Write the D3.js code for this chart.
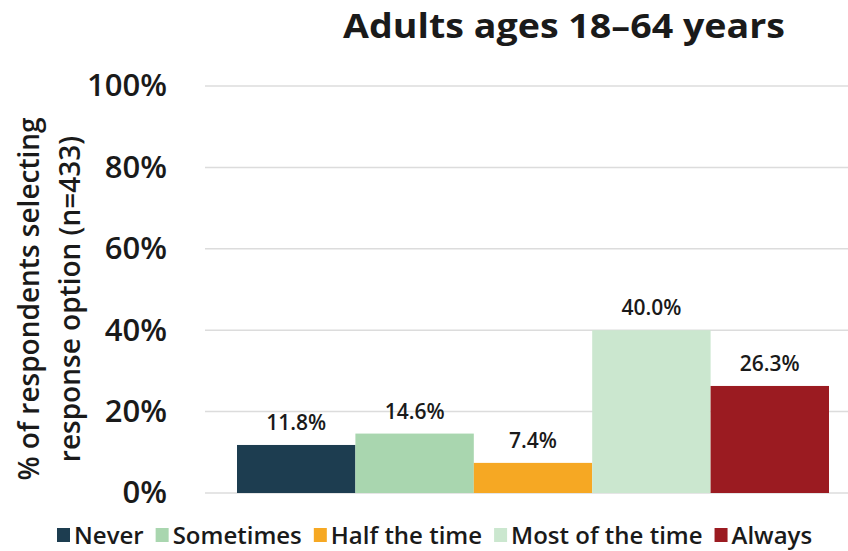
<!DOCTYPE html>
<html>
<head>
<meta charset="utf-8">
<script src="https://cdn.jsdelivr.net/npm/d3@7"></script>
<style>
  html, body { margin: 0; padding: 0; background: #ffffff; }
  svg { display: block; font-family: "Open Sans", "Noto Sans", sans-serif; }
</style>
</head>
<body>
<svg id="chart" width="848" height="551"></svg>
<script>
// Response options and share of respondents (%)
const categories = ["Never", "Sometimes", "Half the time", "Most of the time", "Always"];
const values = [11.8, 14.6, 7.4, 40.0, 26.3];
const colors = ["#1d3d50", "#a9d6af", "#f6a823", "#cbe7cf", "#9b1b21"];
const yTicks = [0, 20, 40, 60, 80, 100];
const title = "Adults ages 18–64 years";
const yTitle = ["% of respondents selecting", "response option (n=433)"];

const svg = d3.select("#chart");
const textColor = "#1a1a1a";

const x = d3.scaleBand().domain(categories).range([237, 829]).padding(0);
const y = d3.scaleLinear().domain([0, 100]).range([493, 86]);

// Gridlines
svg.append("g")
  .selectAll("line")
  .data(yTicks)
  .join("line")
  .attr("x1", 205).attr("x2", 848)
  .attr("y1", d => y(d)).attr("y2", d => y(d))
  .attr("stroke", "#dcdcdc").attr("stroke-width", 1.5);

// Y axis tick labels
const yAxis = d3.axisLeft(y).tickValues(yTicks).tickFormat(d => d + "%").tickSize(0).tickPadding(0);
const yAxisG = svg.append("g").attr("transform", "translate(167,0)").call(yAxis);
yAxisG.select(".domain").remove();
yAxisG.selectAll("text")
  .attr("font-family", "'Open Sans', sans-serif")
  .attr("font-size", 31).attr("font-weight", 600)
  .attr("fill", textColor);

// Bars
svg.append("g")
  .selectAll("rect")
  .data(values)
  .join("rect")
  .attr("x", (d, i) => x(categories[i]))
  .attr("width", x.bandwidth())
  .attr("y", d => y(d))
  .attr("height", d => y(0) - y(d))
  .attr("fill", (d, i) => colors[i]);

// Value labels
svg.append("g")
  .selectAll("text")
  .data(values)
  .join("text")
  .attr("x", (d, i) => x(categories[i]) + x.bandwidth() / 2)
  .attr("y", d => y(d) - 15)
  .attr("text-anchor", "middle")
  .attr("font-size", 21).attr("font-weight", 600)
  .attr("fill", textColor)
  .text(d => d.toFixed(1) + "%");

// Title
svg.append("text")
  .attr("x", 564).attr("y", 38)
  .attr("text-anchor", "middle")
  .attr("font-size", 34).attr("font-weight", 700)
  .attr("textLength", 442).attr("lengthAdjust", "spacingAndGlyphs")
  .attr("fill", textColor)
  .text(title);

// Y axis title (two lines)
svg.append("g")
  .attr("transform", "translate(0,299) rotate(-90)")
  .selectAll("text")
  .data(yTitle)
  .join("text")
  .attr("x", 0)
  .attr("y", (d, i) => 39 + i * 41)
  .attr("text-anchor", "middle")
  .attr("font-size", 28).attr("font-weight", 600)
  .attr("fill", textColor)
  .text(d => d);

// Legend
const legend = svg.append("g").attr("transform", "translate(57,535)");
let lx = 0;
categories.forEach((c, i) => {
  const g = legend.append("g").attr("transform", `translate(${lx},0)`);
  g.append("rect").attr("x", 0).attr("y", -7).attr("width", 13).attr("height", 14).attr("fill", colors[i]);
  const t = g.append("text")
    .attr("x", 17).attr("y", 0).attr("dy", "0.36em")
    .attr("font-size", 24).attr("font-weight", 600)
    .attr("fill", textColor)
    .text(c);
  lx += 17 + t.node().getComputedTextLength() + 12;
});
</script>
</body>
</html>
